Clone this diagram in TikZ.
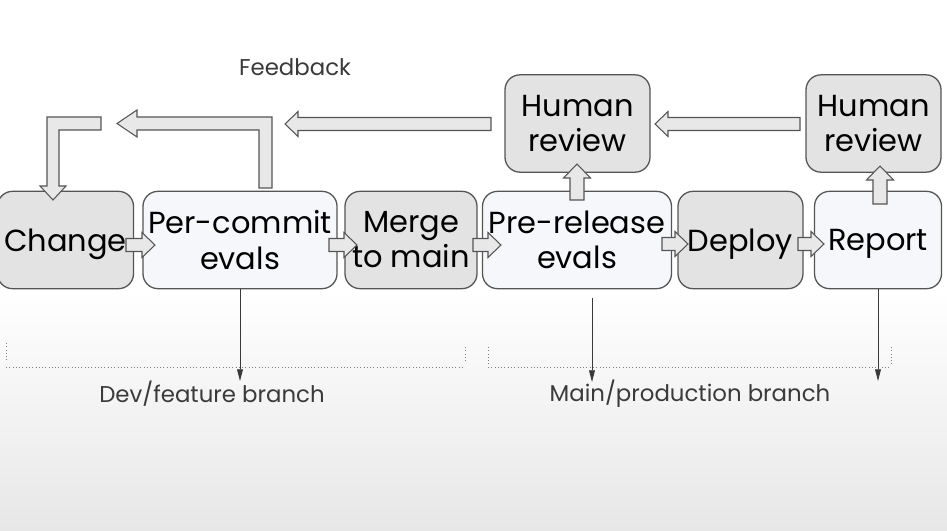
\documentclass[tikz,border=0pt]{standalone}
\usepackage{fontspec}
\setmainfont{Poppins}
\usetikzlibrary{arrows.meta}

\definecolor{boxgray}{HTML}{E3E3E3}
\definecolor{boxlight}{HTML}{F6F7FB}
\definecolor{edge}{HTML}{555555}
\definecolor{arrfill}{HTML}{E8E8E8}
\definecolor{labeltext}{HTML}{3A3A3A}
\definecolor{bggray}{HTML}{E7E7E7}

\tikzset{
  stage/.style={draw=edge, line width=1.1pt, rounded corners=0.45cm, align=center, inner sep=0pt, minimum height=2.92cm, font=\fontsize{26}{30}\selectfont},
  graystage/.style={stage, fill=boxgray},
  lightstage/.style={stage, fill=boxlight},
  oneline/.style={text depth=0pt},
  blockarrow/.style={draw=edge, fill=arrfill, line width=0.9pt},
  branchtick/.style={draw=gray, dotted, line width=0.8pt},
  branchlink/.style={draw=labeltext, line width=0.7pt, -{Triangle[length=10pt,width=5pt]}},
  caption/.style={text=labeltext, font=\fontsize{19.5}{22}\selectfont}
}

% block arrow sideways: tail x, tip x, y
\newcommand{\sidearrow}[3]{%
  \pgfmathsetmacro\hbase{#2>#1 ? #2-13 : #2+13}%
  \filldraw[blockarrow] (#1,#3-6.5) -- (\hbase,#3-6.5) -- (\hbase,#3-12.5) -- (#2,#3) -- (\hbase,#3+12.5) -- (\hbase,#3+6.5) -- (#1,#3+6.5) -- cycle;}

% block arrow upwards: x, tail y, tip y
\newcommand{\liftarrow}[3]{%
  \filldraw[blockarrow] (#1-7,#2) -- (#1-7,#3+14) -- (#1-13.5,#3+14) -- (#1,#3) -- (#1+13.5,#3+14) -- (#1+7,#3+14) -- (#1+7,#2) -- cycle;}

\begin{document}
\begin{tikzpicture}[x=0.03cm, y=-0.03cm]

    % background
    \useasboundingbox (0,0) rectangle (947,531);
    \fill[white] (0,0) rectangle (947,290);
    \shade[top color=white, bottom color=bggray] (0,289) rectangle (947,531);

    % stages along the pipeline
    \node[graystage, oneline, minimum width=4.08cm] (change) at (65.5,240) {Change};
    \node[lightstage, minimum width=5.82cm] (percommit) at (240,240) {Per-commit\\evals};
    \node[graystage, minimum width=3.96cm] (merge) at (411,240) {Merge\\to main};
    \node[lightstage, minimum width=5.67cm] (prerelease) at (577,240) {Pre-release\\evals};
    \node[graystage, oneline, minimum width=3.75cm] (deploy) at (740.5,240) {Deploy};
    \node[lightstage, oneline, minimum width=3.81cm] (report) at (878,240) {Report};

    % human review boxes
    \node[graystage, minimum width=4.35cm] (reviewA) at (577.5,123.5) {Human\\review};
    \node[graystage, minimum width=4.05cm] (reviewB) at (873.5,123.5) {Human\\review};

    %%%%%%%%%%%%%%%%%%%%%%%%%%%%%%%%%%%%%%%%%%%%%%%%%%%%%%

    % forward arrows
    \sidearrow{126}{155}{245}
    \sidearrow{329}{357}{245}
    \sidearrow{473}{501}{245}
    \sidearrow{662}{688}{244}
    \sidearrow{798}{824}{244}

    % arrows up to review
    \liftarrow{577}{200}{164}
    \liftarrow{880}{204}{166}

    %%%%%%%%%%%%%%%%%%%%%%%%%%%%%%%%%%%%%%%%%%%%%%%%%%%%%%

    % feedback arrows
    \node[caption] (feedback) at (295,67) {Feedback};
    \sidearrow{800}{655}{124}
    \sidearrow{491}{285}{124}

    % feedback from per-commit evals
    \filldraw[blockarrow] (272,188) -- (272,117) -- (137,117) -- (137,110) -- (117,123.5) -- (137,137) -- (137,130) -- (259,130) -- (259,188) -- cycle;

    % feedback down into change
    \filldraw[blockarrow] (101,117) -- (47,117) -- (47,186) -- (40,186) -- (53,200) -- (66,186) -- (59,186) -- (59,130) -- (101,130) -- cycle;

    %%%%%%%%%%%%%%%%%%%%%%%%%%%%%%%%%%%%%%%%%%%%%%%%%%%%%%

    % dev/feature branch
    \draw[branchtick] (6,343) -- (6,361);
    \draw[branchtick] (6,367) -- (465,367);
    \draw[branchtick] (465,347) -- (465,363);
    \coordinate (devend) at (240,381);
    \draw[branchlink] (percommit.south) -- (devend);
    \node[caption] (devlabel) at (212,394) {Dev/feature branch};

    % main/production branch
    \draw[branchtick] (488,347) -- (488,364);
    \draw[branchtick] (488,367) -- (891,367);
    \draw[branchtick] (891,347) -- (891,364);
    \coordinate (prestart) at (592,298);
    \coordinate (mainend) at (592,382);
    \draw[branchlink] (prestart) -- (mainend);
    \coordinate (reportend) at (878,381);
    \draw[branchlink] (report.south) -- (reportend);
    \node[caption] (mainlabel) at (690,394) {Main/production branch};

\end{tikzpicture}
\end{document}
